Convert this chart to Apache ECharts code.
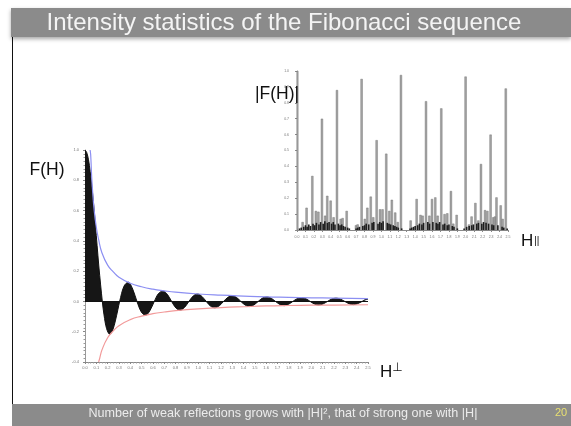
<!DOCTYPE html>
<html>
<head>
<meta charset="utf-8">
<script src="https://cdn.jsdelivr.net/npm/echarts@6/dist/echarts.min.js"></script>
<style>
  html, body { margin: 0; padding: 0; background: #fff; }
  #chart { width: 571px; height: 426px; }
</style>
</head>
<body>
<div id="chart"></div>
<script>
// F(H) against H-perp: the filled oscillating curve
const fPerp = [
  [0, 1.0], [0.015, 0.984], [0.031, 0.935], [0.046, 0.858], [0.061, 0.757],
  [0.077, 0.637], [0.092, 0.505], [0.107, 0.368], [0.122, 0.234], [0.138, 0.109],
  [0.153, 0], [0.168, -0.089], [0.191, -0.180], [0.219, -0.217], [0.245, -0.189],
  [0.268, -0.129], [0.291, -0.052], [0.306, 0],
  [0.344, 0.100], [0.382, 0.127], [0.421, 0.082], [0.459, 0],
  [0.497, -0.069], [0.535, -0.091], [0.574, -0.060], [0.612, 0],
  [0.650, 0.053], [0.688, 0.068], [0.727, 0.047], [0.765, 0],
  [0.803, -0.043], [0.841, -0.058], [0.880, -0.039], [0.918, 0],
  [0.956, 0.036], [0.994, 0.049], [1.033, 0.033], [1.071, 0],
  [1.109, -0.031], [1.147, -0.042], [1.186, -0.029], [1.224, 0],
  [1.262, 0.027], [1.300, 0.037], [1.339, 0.026], [1.377, 0],
  [1.415, -0.024], [1.453, -0.034], [1.492, -0.023], [1.530, 0],
  [1.568, 0.022], [1.606, 0.030], [1.645, 0.021], [1.683, 0],
  [1.721, -0.020], [1.759, -0.028], [1.798, -0.019], [1.836, 0],
  [1.874, 0.018], [1.912, 0.025], [1.951, 0.018], [1.989, 0],
  [2.027, -0.017], [2.065, -0.024], [2.104, -0.016], [2.142, 0],
  [2.180, 0.016], [2.218, 0.022], [2.257, 0.015], [2.295, 0],
  [2.333, -0.015], [2.371, -0.021], [2.410, -0.014], [2.448, 0],
  [2.486, 0.014], [2.5, 0.012]
];
const upperEnv = [
  [0.045, 1.0], [0.05, 0.97], [0.06, 0.81], [0.07, 0.70], [0.08, 0.61], [0.1, 0.49],
  [0.12, 0.41], [0.15, 0.32], [0.2, 0.24], [0.25, 0.195], [0.3, 0.16], [0.4, 0.12],
  [0.5, 0.097], [0.6, 0.081], [0.7, 0.07], [0.8, 0.061], [1.0, 0.049], [1.2, 0.041],
  [1.4, 0.035], [1.6, 0.03], [1.8, 0.027], [2.0, 0.024], [2.2, 0.022], [2.5, 0.019]
];
const lowerEnv = [
  [0.12, -0.4], [0.13, -0.375], [0.15, -0.32], [0.2, -0.24], [0.25, -0.195], [0.3, -0.16],
  [0.4, -0.12], [0.5, -0.097], [0.6, -0.081], [0.7, -0.07], [0.8, -0.061], [1.0, -0.049],
  [1.2, -0.041], [1.4, -0.035], [1.6, -0.03], [1.8, -0.027], [2.0, -0.025], [2.2, -0.024],
  [2.5, -0.022]
];
// |F(H)| against H-parallel: strong reflections
const strongRefl = [
  [0.0, 1.0], [0.063, 0.05], [0.11, 0.14], [0.178, 0.34], [0.22, 0.12], [0.25, 0.115],
  [0.292, 0.70], [0.33, 0.09], [0.355, 0.215], [0.395, 0.185], [0.43, 0.08], [0.47, 0.88],
  [0.514, 0.07], [0.537, 0.075], [0.585, 0.12], [0.695, 0.03], [0.715, 0.035],
  [0.762, 0.95], [0.80, 0.07], [0.83, 0.14], [0.87, 0.21], [0.90, 0.08], [0.94, 0.565],
  [0.98, 0.13], [1.01, 0.13], [1.054, 0.48], [1.09, 0.12], [1.12, 0.19], [1.16, 0.11],
  [1.19, 0.05], [1.228, 0.975], [1.343, 0.06], [1.414, 0.195], [1.46, 0.095], [1.485, 0.09],
  [1.525, 0.81], [1.565, 0.09], [1.596, 0.195], [1.635, 0.205], [1.663, 0.09], [1.706, 0.765],
  [1.745, 0.10], [1.777, 0.105], [1.82, 0.245], [1.848, 0.04], [1.888, 0.095],
  [1.994, 0.965], [2.034, 0.035], [2.065, 0.085], [2.11, 0.17], [2.145, 0.06],
  [2.176, 0.415], [2.224, 0.125], [2.252, 0.12], [2.29, 0.60], [2.322, 0.08], [2.342, 0.085],
  [2.36, 0.205], [2.41, 0.155], [2.433, 0.07], [2.47, 0.89]
];
// weak reflections crowding the base
const weakRefl = [
  [0.03, 0.01], [0.05, 0.015], [0.08, 0.02], [0.10, 0.03], [0.12, 0.02], [0.14, 0.035],
  [0.16, 0.025], [0.19, 0.04], [0.21, 0.03], [0.23, 0.045], [0.26, 0.035], [0.28, 0.05],
  [0.31, 0.04], [0.33, 0.055], [0.36, 0.045], [0.38, 0.05], [0.41, 0.04], [0.43, 0.05],
  [0.45, 0.035], [0.49, 0.04], [0.51, 0.03], [0.53, 0.035], [0.55, 0.025], [0.57, 0.02],
  [0.60, 0.015], [0.62, 0.01],
  [0.70, 0.01], [0.72, 0.015], [0.74, 0.02], [0.78, 0.025], [0.80, 0.03], [0.82, 0.04],
  [0.85, 0.035], [0.89, 0.045], [0.91, 0.05], [0.96, 0.04], [0.98, 0.05], [1.00, 0.045],
  [1.02, 0.055], [1.07, 0.045], [1.09, 0.04], [1.11, 0.035], [1.14, 0.03], [1.16, 0.025],
  [1.18, 0.02], [1.20, 0.015], [1.24, 0.01],
  [1.34, 0.01], [1.36, 0.015], [1.38, 0.02], [1.40, 0.025], [1.43, 0.03], [1.45, 0.04],
  [1.48, 0.035], [1.50, 0.045], [1.55, 0.05], [1.57, 0.04], [1.61, 0.05], [1.65, 0.045],
  [1.67, 0.04], [1.69, 0.05], [1.73, 0.035], [1.75, 0.04], [1.78, 0.03], [1.80, 0.035],
  [1.84, 0.025], [1.86, 0.02], [1.90, 0.01],
  [1.98, 0.01], [2.01, 0.02], [2.04, 0.025], [2.07, 0.03], [2.09, 0.035], [2.13, 0.04],
  [2.15, 0.045], [2.19, 0.04], [2.21, 0.05], [2.24, 0.045], [2.27, 0.04], [2.31, 0.035],
  [2.33, 0.03], [2.38, 0.03], [2.43, 0.02], [2.45, 0.015], [2.49, 0.01]
];

const titleText = 'Intensity statistics of the Fibonacci sequence';
const footerText = 'Number of weak reflections grows with |H|², that of strong one with |H|';
const pageNo = '20';

const tinyLabel = { fontSize: 4, color: '#777', margin: 4, formatter: v => v.toFixed(1), hideOverlap: false };

var myChart = echarts.init(document.getElementById('chart'));
myChart.setOption({
  animation: false,
  backgroundColor: '#fff',
  grid: [
    { left: 85, right: 203, top: 150, bottom: 64 },
    { left: 297, right: 63, top: 71, bottom: 196 }
  ],
  xAxis: [
    {
      gridIndex: 0, type: 'value', min: 0, max: 2.5, interval: 0.1,
      axisLine: { onZero: false, lineStyle: { color: '#888', width: 1 } },
      axisTick: { show: true, length: 2, lineStyle: { color: '#888' } },
      minorTick: { show: true, splitNumber: 4, length: 1.5, lineStyle: { color: '#999' } },
      splitLine: { show: false },
      axisLabel: tinyLabel
    },
    {
      gridIndex: 1, type: 'value', min: 0, max: 2.5, interval: 0.1,
      axisLine: { onZero: false, lineStyle: { color: '#888', width: 1 } },
      axisTick: { show: true, length: 2, lineStyle: { color: '#888' } },
      splitLine: { show: false },
      axisLabel: Object.assign({}, tinyLabel, { fontSize: 3.5, margin: 5 })
    }
  ],
  yAxis: [
    {
      gridIndex: 0, type: 'value', min: -0.4, max: 1.0, interval: 0.2,
      axisLine: { show: true, lineStyle: { color: '#999', width: 1 } },
      axisTick: { show: true, length: 2, lineStyle: { color: '#888' } },
      minorTick: { show: true, splitNumber: 8, length: 1.5, lineStyle: { color: '#999' } },
      splitLine: { show: false },
      axisLabel: Object.assign({}, tinyLabel, { margin: 6 })
    },
    {
      gridIndex: 1, type: 'value', min: 0, max: 1.0, interval: 0.1,
      axisLine: { show: true, lineStyle: { color: '#999', width: 1 } },
      axisTick: { show: true, length: 2, lineStyle: { color: '#888' } },
      splitLine: { show: false },
      axisLabel: Object.assign({}, tinyLabel, { fontSize: 3.5, margin: 8 })
    }
  ],
  series: [
    {
      type: 'line', xAxisIndex: 0, yAxisIndex: 0, data: fPerp,
      smooth: 0.35, showSymbol: false, z: 3,
      lineStyle: { color: '#111', width: 1 },
      areaStyle: { color: '#161616', opacity: 1 },
      markLine: {
        silent: true, symbol: 'none', label: { show: false },
        lineStyle: { color: '#111', width: 1, type: 'solid' },
        data: [[{ coord: [0, 0] }, { coord: [2.5, 0] }]]
      }
    },
    {
      type: 'line', xAxisIndex: 0, yAxisIndex: 0, data: upperEnv,
      smooth: true, showSymbol: false, z: 4,
      lineStyle: { color: '#8c8ff2', width: 1.2 }
    },
    {
      type: 'line', xAxisIndex: 0, yAxisIndex: 0, data: lowerEnv,
      smooth: true, showSymbol: false, z: 4,
      lineStyle: { color: '#f29a9a', width: 1.2 }
    },
    {
      type: 'bar', xAxisIndex: 1, yAxisIndex: 1, data: strongRefl,
      barWidth: 2.2, barGap: '-100%', z: 2,
      itemStyle: { color: '#a4a4a4', borderColor: '#6a6a6a', borderWidth: 0.4 }
    },
    {
      type: 'bar', xAxisIndex: 1, yAxisIndex: 1, data: weakRefl,
      barWidth: 1.6, barGap: '-100%', z: 3,
      itemStyle: { color: '#1e1e1e' }
    }
  ],
  graphic: [
    { type: 'rect', shape: { x: 11, y: 8, width: 560, height: 29 },
      style: { fill: '#8b8b8b', shadowBlur: 4, shadowOffsetY: 2, shadowColor: 'rgba(0,0,0,0.35)' }, z: 10 },
    { type: 'text', x: 284, y: 23, z: 11,
      style: { text: titleText, fill: '#f4f4f4', font: '24px "Liberation Sans", Arial, sans-serif',
               align: 'center', verticalAlign: 'middle' } },
    { type: 'line', shape: { x1: 12.5, y1: 37, x2: 12.5, y2: 404 },
      style: { stroke: '#111', lineWidth: 1 }, z: 9 },
    { type: 'rect', shape: { x: 12, y: 404, width: 559, height: 22 },
      style: { fill: '#8b8b8b' }, z: 10 },
    { type: 'text', x: 283, y: 414, z: 11,
      style: { text: footerText, fill: '#ececec', font: '12.6px "Liberation Sans", Arial, sans-serif',
               align: 'center', verticalAlign: 'middle' } },
    { type: 'text', x: 561, y: 413, z: 11,
      style: { text: pageNo, fill: '#e8e070', font: '11px "Liberation Sans", Arial, sans-serif',
               align: 'center', verticalAlign: 'middle' } },
    { type: 'text', x: 47, y: 170, z: 11,
      style: { text: 'F(H)', fill: '#111', font: '17.5px "Liberation Sans", Arial, sans-serif',
               align: 'center', verticalAlign: 'middle' } },
    { type: 'text', x: 277, y: 94, z: 11,
      style: { text: '|F(H)|', fill: '#111', font: '17.5px "Liberation Sans", Arial, sans-serif',
               align: 'center', verticalAlign: 'middle' } },
    { type: 'text', x: 521, y: 241, z: 11,
      style: { text: '{m|H}{s|||}', align: 'left', verticalAlign: 'middle',
               rich: { m: { fill: '#111', font: '17px "Liberation Sans", Arial, sans-serif' },
                       s: { fill: '#111', font: '10px "Liberation Sans", Arial, sans-serif', padding: [0, 0, 0, 1] } } } },
    { type: 'text', x: 380, y: 372, z: 11,
      style: { text: '{m|H}{s|⊥}', align: 'left', verticalAlign: 'middle',
               rich: { m: { fill: '#111', font: '17px "Liberation Sans", Arial, sans-serif' },
                       s: { fill: '#111', font: '12px "DejaVu Sans", sans-serif', padding: [0, 0, 8, 0] } } } }
  ]
});
</script>
</body>
</html>
